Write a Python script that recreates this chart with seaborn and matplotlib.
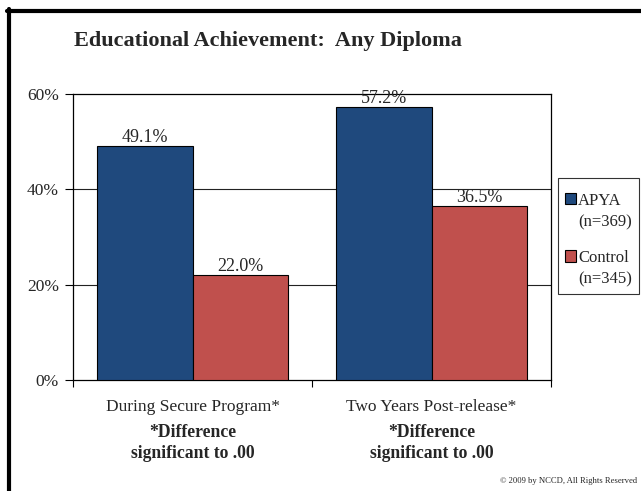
import matplotlib
matplotlib.use("Agg")
import matplotlib.pyplot as plt
import matplotlib.transforms as mtransforms
from matplotlib.lines import Line2D
from matplotlib.patches import Patch, Rectangle
from matplotlib.legend_handler import HandlerPatch
import seaborn as sns
import pandas as pd

# Data
categories = ["During Secure Program*", "Two Years Post-release*"]
groups = ["APYA", "Control"]
group_labels = ["APYA\n(n=369)", "Control\n(n=345)"]
apya_values = [49.1, 57.2]
control_values = [22.0, 36.5]
y_ticks = [0, 20, 40, 60]
note_text = "*Difference\nsignificant to .00"

colors = {"APYA": "#1F497D", "Control": "#C0504D"}

df = pd.DataFrame({
    "category": categories * 2,
    "group": [groups[0]] * 2 + [groups[1]] * 2,
    "value": apya_values + control_values,
})

sns.set_theme(style="white")
plt.rcParams["font.family"] = ["Liberation Serif", "DejaVu Serif"]

FS = 12.5

fig = plt.figure(figsize=(6.41, 4.91), dpi=100)
ax = fig.add_axes([73 / 641, 1 - 380 / 491, (551 - 73) / 641, (380 - 94) / 491])

sns.barplot(data=df, x="category", y="value", hue="group", order=categories,
            hue_order=groups, palette=colors, width=0.8, edgecolor="black",
            linewidth=0.8, saturation=1, ax=ax, legend=False, zorder=3)

ax.set_xlim(-0.5, 1.5)
ax.set_ylim(0, 60)
ax.set_yticks(y_ticks)
ax.set_yticklabels([f"{v}%" for v in y_ticks], fontsize=FS)
ax.set_xlabel("")
ax.set_ylabel("")

# Gridlines behind the bars
for v in y_ticks[1:-1]:
    ax.axhline(v, color="#222222", lw=0.8, zorder=1)

for s in ax.spines.values():
    s.set_color("black")
    s.set_linewidth(0.9)

ax.tick_params(axis="y", which="major", direction="out", length=6, width=0.8,
               color="black", pad=4, left=True)
ax.set_xticks([0, 1])
ax.set_xticklabels(categories, fontsize=FS)
ax.tick_params(axis="x", which="major", length=0, pad=14)
ax.set_xticks([-0.5, 0.5, 1.5], minor=True)
ax.tick_params(axis="x", which="minor", direction="out", length=5, width=0.8,
               color="black", bottom=True)

# Value labels
for container in ax.containers:
    ax.bar_label(container, labels=[f"{b.get_height():.1f}%" for b in container],
                 fontsize=13, padding=0)

# Notes under each category
trans = mtransforms.blended_transform_factory(ax.transData, fig.transFigure)
for i in range(len(categories)):
    ax.text(i, 1 - 443 / 491, note_text, transform=trans, ha="center",
            va="center", fontsize=12.7, fontweight="bold", linespacing=1.25)


# Legend swatches sit beside the first line of each two-line label
def top_aligned_patch(legend, orig_handle, xdescent, ydescent, width, height,
                      fontsize):
    return Rectangle((-xdescent, -ydescent + 0.78 * fontsize), width, height)


LFS = 12
handles = [Patch(facecolor=colors[g], edgecolor="black", linewidth=0.8)
           for g in groups]
leg = fig.legend(handles, group_labels, loc="upper left",
                 bbox_to_anchor=(558 / 641, 1 - 178 / 491), fontsize=LFS,
                 title=" ", title_fontsize=3,
                 frameon=True, fancybox=False, handlelength=0.66,
                 handleheight=0.66, handletextpad=0.15, labelspacing=1.2,
                 borderpad=0.4, borderaxespad=0,
                 handler_map={Patch: HandlerPatch(patch_func=top_aligned_patch)})
leg.get_frame().set_edgecolor("black")
leg.get_frame().set_linewidth(0.8)
leg._legend_box.sep = 3
for t in leg.get_texts():
    t.set_linespacing(1.45)

# Title
fig.text(268 / 641, 1 - 41 / 491, "Educational Achievement:  Any Diploma",
         ha="center", va="center", fontsize=16, fontweight="bold")

# Copyright
fig.text(637 / 641, 1 - 481 / 491, "\u00a9 2009 by NCCD, All Rights Reserved",
         ha="right", va="center", fontsize=6.2)

# Slide frame
fig.add_artist(Line2D([9 / 641, 9 / 641], [0, 1 - 9 / 491],
                      transform=fig.transFigure, color="black", lw=3))
fig.add_artist(Line2D([7 / 641, 1], [1 - 11 / 491, 1 - 11 / 491],
                      transform=fig.transFigure, color="black", lw=3))

fig.savefig("out.png", dpi=100)
